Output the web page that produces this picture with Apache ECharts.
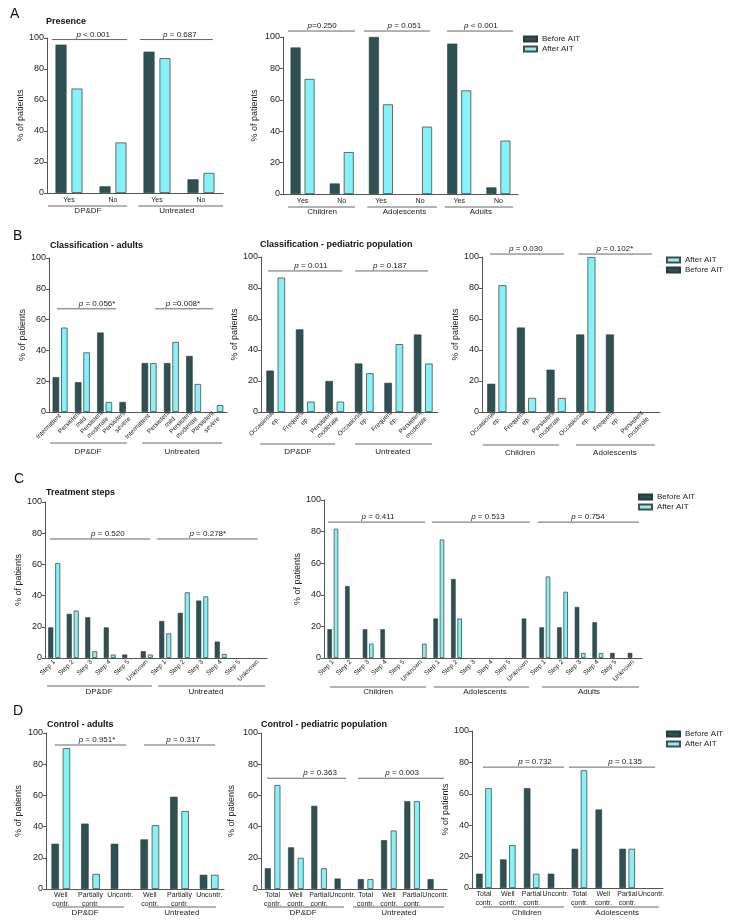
<!DOCTYPE html>
<html>
<head>
<meta charset="utf-8">
<script src="https://cdn.jsdelivr.net/npm/echarts@6/dist/echarts.min.js"></script>
<style>
  html, body { margin: 0; padding: 0; background: #fff; }
  #chart { width: 732px; height: 923px; }
</style>
</head>
<body>
<div id="chart"></div>
<script>
// ---- data (percent of patients) ----
// A - presence
const presenceCats = ['Yes', 'No', 'Yes', 'No'];
const presenceBefore = [95.7, 4.3, 91.2, 8.8];
const presenceAfter = [67.4, 32.6, 87.0, 13.0];
const presenceGroups = ['DP&DF', 'Untreated'];
const presenceP = ['p < 0.001', 'p = 0.687'];

const presenceAgeCats = ['Yes', 'No', 'Yes', 'No', 'Yes', 'No'];
const presenceAgeBefore = [93.3, 6.7, 100, 0, 95.8, 4.2];
const presenceAgeAfter = [73.3, 26.7, 57.1, 42.9, 66.0, 34.0];
const presenceAgeGroups = ['Children', 'Adolescents', 'Adults'];
const presenceAgeP = ['p=0.250', 'p = 0.051', 'p < 0.001'];

// B - classification
const classAdultCats = ['Intermittent', 'Persistent\nmild', 'Persistent\nmoderate', 'Persistent\nsevere',
                        'Intermittent', 'Persistent\nmild', 'Persistent\nmoderate', 'Persistent\nsevere'];
const classAdultBefore = [22.6, 19.4, 51.6, 6.5, 31.8, 31.8, 36.4, 0];
const classAdultAfter = [54.8, 38.7, 6.5, 0, 31.8, 45.5, 18.2, 4.5];
const classAdultP = ['p = 0.056*', 'p =0.008*'];

const classPedCats = ['Occasional\nep.', 'Frequent\nep.', 'Persistent\nmoderate',
                      'Occasional\nep.', 'Frequent\nep.', 'Persistent\nmoderate'];
const classPedBefore = [26.7, 53.3, 20.0, 31.3, 18.8, 50.0];
const classPedAfter = [86.7, 6.7, 6.7, 25.0, 43.8, 31.3];
const classPedP = ['p = 0.011', 'p = 0.187'];

const classAgeBefore = [18.2, 54.5, 27.3, 50, 50, 0];
const classAgeAfter = [81.8, 9.1, 9.1, 100, 0, 0];
const classAgeGroups = ['Children', 'Adolescents'];
const classAgeP = ['p = 0.030', 'p = 0.102*'];

// C - treatment steps
const stepNames = ['Step 1', 'Step 2', 'Step 3', 'Step 4', 'Step 5', 'Unknown'];
const stepAdultBefore = [19.6, 28.3, 26.1, 19.6, 2.2, 4.3, 23.7, 28.9, 36.8, 10.5, 0, 0];
const stepAdultAfter = [60.9, 30.4, 4.3, 2.2, 0, 2.2, 15.8, 42.1, 39.5, 2.6, 0, 0];
const stepAdultP = ['p = 0.520', 'p = 0.278*'];

const stepAgeBefore = [18.2, 45.5, 18.2, 18.2, 0, 0, 25, 50, 0, 0, 0, 25, 19.4, 19.4, 32.3, 22.6, 3.2, 3.2];
const stepAgeAfter = [81.8, 0, 9.1, 0, 0, 9.1, 75, 25, 0, 0, 0, 0, 51.6, 41.9, 3.2, 3.2, 0, 0];
const stepAgeP = ['p = 0.411', 'p = 0.513', 'p = 0.754'];

// D - control
const ctrlAdultCats = ['Well\ncontr.', 'Partially\ncontr.', 'Uncontr.', 'Well\ncontr.', 'Partially\ncontr.', 'Uncontr.'];
const ctrlAdultBefore = [29.0, 41.9, 29.0, 31.8, 59.1, 9.1];
const ctrlAdultAfter = [90.3, 9.7, 0, 40.9, 50.0, 9.1];
const ctrlAdultP = ['p = 0.951*', 'p = 0.317'];

const ctrlPedCats = ['Total\ncontr.', 'Well\ncontr.', 'Partial\ncontr.', 'Uncontr.',
                     'Total\ncontr.', 'Well\ncontr.', 'Partial\ncontr.', 'Uncontr.'];
const ctrlPedBefore = [13.3, 26.7, 53.3, 6.7, 6.3, 31.3, 56.3, 6.3];
const ctrlPedAfter = [66.7, 20.0, 13.3, 0, 6.3, 37.5, 56.3, 0];
const ctrlPedP = ['p = 0.363', 'p = 0.003'];

const ctrlAgeBefore = [9.1, 18.2, 63.6, 9.1, 25, 50, 25, 0];
const ctrlAgeAfter = [63.6, 27.3, 9.1, 0, 75, 0, 25, 0];
const ctrlAgeP = ['p = 0.732', 'p = 0.135'];

const treatGroups = ['DP&DF', 'Untreated'];
// ---- end data ----

const font = 'Liberation Sans, Arial, Helvetica, sans-serif';
const DARK = '#2f5153';
const CYAN = '#86f2f7';

// layout of each small plot; spans are in category-index units
const panels = [
  { cats: presenceCats, before: presenceBefore, after: presenceAfter, p: presenceP, groups: presenceGroups,
    grid: { left: 47, top: 38, width: 176, height: 155 }, barWidth: 11, barGap: '45%',
    rotate: 0, labelSize: 7, margin: 3, nameGap: 22,
    pY: 99, pSpans: [[-0.39, 1.32], [1.61, 3.27]], pAt: [0.55, 2.52],
    gSpans: [[-0.48, 1.32], [1.57, 3.5]], gAt: [0.43, 2.45], gLine: 13, gText: 18 },
  { cats: presenceAgeCats, before: presenceAgeBefore, after: presenceAgeAfter, p: presenceAgeP, groups: presenceAgeGroups,
    grid: { left: 283, top: 37, width: 235, height: 157 }, barWidth: 10, barGap: '40%',
    rotate: 0, labelSize: 7, margin: 3, nameGap: 24,
    pY: 103.8, pSpans: [[-0.37, 1.34], [1.57, 3.25], [3.69, 5.37]], pAt: [0.5, 2.6, 4.55],
    gSpans: [[-0.37, 1.34], [1.65, 3.43], [3.63, 5.37]], gAt: [0.5, 2.6, 4.55], gLine: 13, gText: 18 },
  { cats: classAdultCats, before: classAdultBefore, after: classAdultAfter, p: classAdultP, groups: treatGroups,
    grid: { left: 49, top: 258, width: 178, height: 154 }, barWidth: 6.5, barGap: '30%',
    rotate: 45, labelSize: 6.5, margin: 3, nameGap: 22,
    pY: 67, pSpans: [[-0.14, 2.51], [4.27, 6.87]], pAt: [1.66, 5.52],
    gSpans: [[-0.45, 3.0], [3.68, 7.28]], gAt: [1.25, 5.48], gLine: 31, gText: 40 },
  { cats: classPedCats, before: classPedBefore, after: classPedAfter, p: classPedP, groups: treatGroups,
    grid: { left: 261, top: 257, width: 177, height: 155 }, barWidth: 7.5, barGap: '50%',
    rotate: 45, labelSize: 6.5, margin: 3, nameGap: 22,
    pY: 91, pSpans: [[-0.26, 2.25], [2.69, 5.16]], pAt: [1.19, 3.87],
    gSpans: [[-0.53, 2.01], [2.69, 5.3]], gAt: [0.75, 3.97], gLine: 32, gText: 40 },
  { cats: classPedCats, before: classAgeBefore, after: classAgeAfter, p: classAgeP, groups: classAgeGroups,
    grid: { left: 482, top: 257, width: 178, height: 155 }, barWidth: 8, barGap: '40%',
    rotate: 45, labelSize: 6.5, margin: 3, nameGap: 21,
    pY: 101.9, pSpans: [[-0.23, 2.26], [2.74, 5.23]], pAt: [0.98, 3.98],
    gSpans: [[-0.47, 2.1], [2.67, 5.33]], gAt: [0.78, 3.98], gLine: 33, gText: 41 },
  { cats: stepNames.concat(stepNames), before: stepAdultBefore, after: stepAdultAfter, p: stepAdultP, groups: treatGroups,
    grid: { left: 45, top: 502, width: 222, height: 156 }, barWidth: 5, barGap: '40%',
    rotate: 45, labelSize: 6.5, margin: 3, nameGap: 20,
    pY: 76.3, pSpans: [[-0.23, 5.18], [5.55, 11.0]], pAt: [2.9, 8.3],
    gSpans: [[-0.39, 5.28], [5.61, 11.4]], gAt: [2.42, 8.2], gLine: 28, gText: 34 },
  { cats: stepNames.concat(stepNames, stepNames), before: stepAgeBefore, after: stepAgeAfter, p: stepAgeP, groups: presenceAgeGroups,
    grid: { left: 324, top: 500, width: 318, height: 158 }, barWidth: 4.5, barGap: '40%',
    rotate: 45, labelSize: 6.5, margin: 3, nameGap: 22,
    pY: 86, pSpans: [[-0.27, 5.22], [5.61, 11.16], [11.61, 17.33]], pAt: [2.56, 8.78, 14.44],
    gSpans: [[-0.16, 5.27], [5.72, 11.1], [11.84, 17.33]], gAt: [2.56, 8.61, 14.5], gLine: 29, gText: 34 },
  { cats: ctrlAdultCats, before: ctrlAdultBefore, after: ctrlAdultAfter, p: ctrlAdultP, groups: treatGroups,
    grid: { left: 46, top: 733, width: 178, height: 156 }, barWidth: 7.5, barGap: '50%',
    rotate: 0, labelSize: 7, margin: 2, nameGap: 23,
    pY: 92.3, pSpans: [[-0.2, 2.2], [2.8, 5.2]], pAt: [1.22, 4.12],
    gSpans: [[-0.13, 2.13], [2.94, 5.23]], gAt: [0.82, 4.08], gLine: 18, gText: 24 },
  { cats: ctrlPedCats, before: ctrlPedBefore, after: ctrlPedAfter, p: ctrlPedP, groups: treatGroups,
    grid: { left: 261, top: 733, width: 186, height: 156 }, barWidth: 6, barGap: '60%',
    rotate: 0, labelSize: 7, margin: 2, nameGap: 25,
    pY: 71, pSpans: [[-0.24, 3.16], [3.67, 7.37]], pAt: [2.04, 5.57],
    gSpans: [[-0.24, 3.07], [3.46, 7.37]], gAt: [1.31, 5.43], gLine: 18, gText: 24 },
  { cats: ctrlPedCats, before: ctrlAgeBefore, after: ctrlAgeAfter, p: ctrlAgeP, groups: classAgeGroups,
    grid: { left: 472, top: 731, width: 191, height: 157 }, barWidth: 6.5, barGap: '40%',
    rotate: 0, labelSize: 7, margin: 2, nameGap: 20,
    pY: 77, pSpans: [[-0.04, 3.35], [3.56, 7.17]], pAt: [2.14, 5.91],
    gSpans: [[-0.04, 3.35], [3.73, 7.33]], gAt: [1.8, 5.58], gLine: 19, gText: 25 }
];

const chart = echarts.init(document.getElementById('chart'));

function letter(t, left, top) {
  return { text: t, left: left, top: top, padding: 0,
           textStyle: { fontSize: 14, fontWeight: 'normal', color: '#111', fontFamily: font } };
}
function heading(t, left, top) {
  return { text: t, left: left, top: top, padding: 0,
           textStyle: { fontSize: 9, fontWeight: 'bold', color: '#111', fontFamily: font } };
}
function legendAt(left, top, order) {
  return { data: order, orient: 'vertical', left: left, top: top, padding: 0,
           icon: 'rect', itemWidth: 13, itemHeight: 5, itemGap: 2,
           textStyle: { fontSize: 8, color: '#222', fontFamily: font } };
}
// empty bars: no outline left sitting on the axis
function barData(values) {
  return values.map(v => v === 0 ? { value: 0, itemStyle: { borderWidth: 0, opacity: 0 } } : v);
}

const option = {
  animation: false,
  textStyle: { fontFamily: font, color: '#222' },
  title: [
    letter('A', 10, 7), heading('Presence', 46, 17),
    letter('B', 13, 229), heading('Classification - adults', 50, 241),
    heading('Classification - pediatric population', 260, 240),
    letter('C', 14, 472), heading('Treatment steps', 46, 488),
    letter('D', 13, 704), heading('Control - adults', 47, 720),
    heading('Control - pediatric population', 261, 720)
  ],
  legend: [
    legendAt(523, 35, ['Before AIT', 'After AIT']),
    legendAt(666, 256, ['After AIT', 'Before AIT']),
    legendAt(638, 493, ['Before AIT', 'After AIT']),
    legendAt(666, 730, ['Before AIT', 'After AIT'])
  ],
  grid: panels.map(p => Object.assign({ containLabel: false, outerBoundsMode: 'none' }, p.grid)),
  xAxis: panels.map((p, k) => ({
    type: 'category', gridIndex: k, data: p.cats,
    axisLine: { lineStyle: { color: '#555', width: 1 } },
    axisTick: { show: false },
    axisLabel: { interval: 0, rotate: p.rotate, fontSize: p.labelSize, margin: p.margin,
                 color: '#222', lineHeight: p.labelSize + 1.5 }
  })),
  yAxis: panels.map((p, k) => ({
    type: 'value', gridIndex: k, min: 0, max: 100, interval: 20,
    name: '% of patients', nameLocation: 'middle', nameGap: p.nameGap,
    nameTextStyle: { fontSize: 9, color: '#222' },
    axisLine: { show: true, lineStyle: { color: '#555', width: 1 } },
    axisTick: { show: true, length: 3, lineStyle: { color: '#555' } },
    axisLabel: { fontSize: 9, margin: 3, color: '#222' },
    splitLine: { show: false }
  })),
  series: panels.flatMap((p, k) => [
    { name: 'Before AIT', type: 'bar', xAxisIndex: k, yAxisIndex: k, data: barData(p.before),
      barWidth: p.barWidth, barGap: p.barGap,
      itemStyle: { color: DARK, borderColor: '#233d3e', borderWidth: 0.6 } },
    { name: 'After AIT', type: 'bar', xAxisIndex: k, yAxisIndex: k, data: barData(p.after),
      barWidth: p.barWidth, barGap: p.barGap,
      itemStyle: { color: CYAN, borderColor: '#4a4a4a', borderWidth: 0.8 } }
  ])
};

chart.setOption(option);

// p-value brackets and group labels, placed through the axes
function fmtP(s) { return s.replace(/^p/, '{i|p}'); }

const graphics = [];
panels.forEach((p, k) => {
  const x0 = chart.convertToPixel({ xAxisIndex: k }, 0);
  const x1 = chart.convertToPixel({ xAxisIndex: k }, 1);
  const band = x1 - x0;
  const cx = i => x0 + i * band;
  const yBase = chart.convertToPixel({ yAxisIndex: k }, 0);
  const yP = chart.convertToPixel({ yAxisIndex: k }, p.pY);

  p.pSpans.forEach((s, j) => {
    graphics.push({ type: 'line', silent: true,
      shape: { x1: cx(s[0]), y1: yP, x2: cx(s[1]), y2: yP },
      style: { stroke: '#666', lineWidth: 1 } });
    graphics.push({ type: 'text', silent: true, x: cx(p.pAt[j]), y: yP - 1,
      style: { text: fmtP(p.p[j]), fontSize: 8, fontFamily: font, fill: '#222',
               align: 'center', verticalAlign: 'bottom',
               rich: { i: { fontStyle: 'italic', fontSize: 8, fontFamily: font, fill: '#222' } } } });
  });

  p.gSpans.forEach((s, j) => {
    graphics.push({ type: 'line', silent: true,
      shape: { x1: cx(s[0]), y1: yBase + p.gLine, x2: cx(s[1]), y2: yBase + p.gLine },
      style: { stroke: '#666', lineWidth: 1 } });
    graphics.push({ type: 'text', silent: true, x: cx(p.gAt[j]), y: yBase + p.gText,
      style: { text: p.groups[j], fontSize: 8, fontFamily: font, fill: '#222',
               align: 'center', verticalAlign: 'middle' } });
  });
});

chart.setOption({ graphic: graphics });
</script>
</body>
</html>
